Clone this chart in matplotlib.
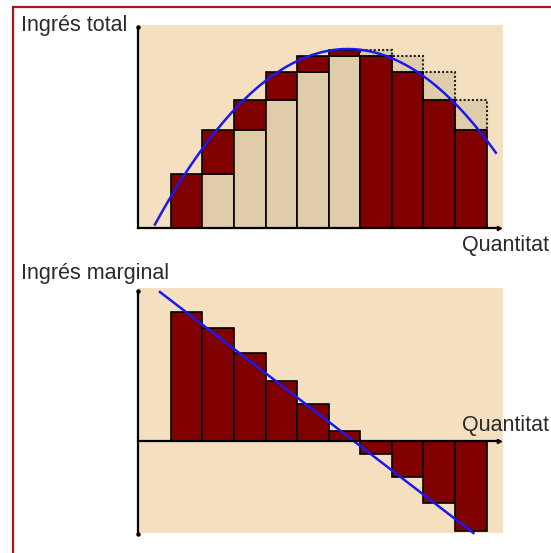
import numpy as np
import matplotlib
matplotlib.use('Agg')
import matplotlib.pyplot as plt
from matplotlib.patches import Rectangle

plt.rcParams['font.family'] = ['Liberation Sans', 'DejaVu Sans']

# quantities (bar centres)
q = [1, 2, 3, 4, 5, 6, 7, 8, 9, 10]
# total revenue at each quantity (TR(0) = 0)
total_rev = [54, 98, 128, 156, 172, 178, 172, 156, 128, 98]
# marginal revenue bars
marg_rev = [129, 113, 88, 60, 37, 10, -13, -36, -62, -90]

# continuous total revenue curve: peak position, half width, peak height
tr_peak_q = 6.1
tr_half_w = 6.16
tr_peak = 179
tr_curve_q = [0.0, 10.79]
# continuous marginal revenue line (end points)
mr_line_q = [0.16, 10.08]
mr_line_v = [149, -92]

tan = '#F4DFBE'
light = '#E0CCA8'
dark = '#800000'
blue = '#1A1AF0'
txt = '#2A2A2A'

W, H = 551, 553
fig = plt.figure(figsize=(W / 100, H / 100), dpi=100)
fig.patch.set_facecolor('white')

# dark red frame, running off the right and bottom edges
fig.patches.append(Rectangle((12.5 / W, -0.1), 1.2, 1 - 6.5 / H + 0.1,
                             transform=fig.transFigure, fill=False,
                             edgecolor='#A01818', linewidth=1.6))

xlim = (-0.535, 11.016)

# ---- top: total revenue ----
ax1 = fig.add_axes([138 / W, 1 - 228 / H, 365 / W, 203 / H])
ax1.set_facecolor(tan)
ax1.set_xlim(*xlim)
ax1.set_ylim(0, 203)

prev = [0] + total_rev[:-1]
for qi, tr, pv in zip(q, total_rev, prev):
    if tr >= pv:
        ax1.bar(qi, pv, width=1, color=light, edgecolor='black', linewidth=1.2)
        ax1.bar(qi, tr - pv, bottom=pv, width=1, color=dark,
                edgecolor='black', linewidth=1.2)
    else:
        # revenue lost: dotted outline of the previous total
        ax1.bar(qi, pv - tr, bottom=tr, width=1, color=light, edgecolor='#222222',
                linewidth=1.5, linestyle=(0, (1, 1)), zorder=1)
        ax1.bar(qi, tr, width=1, color=dark, edgecolor='black', linewidth=1.2,
                zorder=2)

qq = np.linspace(tr_curve_q[0], tr_curve_q[1], 200)
ax1.plot(qq, tr_peak * (1 - ((qq - tr_peak_q) / tr_half_w) ** 2),
         color=blue, linewidth=1.8, clip_on=False, zorder=3)

ax1.plot([xlim[0], xlim[0]], [0, 201], color='black', lw=1.6, clip_on=False)
ax1.plot([xlim[0]], [201], marker='o', ms=2.2, color='black', clip_on=False)
ax1.plot([xlim[0], 10.9], [0, 0], color='black', lw=1.6, clip_on=False, zorder=4)
ax1.plot([10.9], [0], marker='>', ms=3, color='black', clip_on=False)

# ---- bottom: marginal revenue ----
ax2 = fig.add_axes([138 / W, 1 - 533 / H, 365 / W, 245 / H])
ax2.set_facecolor(tan)
ax2.set_xlim(*xlim)
ax2.set_ylim(-92, 153)

ax2.bar(q, marg_rev, width=1, color=dark, edgecolor='black', linewidth=1.2)
ax2.plot(mr_line_q, mr_line_v, color=blue, linewidth=1.8, clip_on=False, zorder=3)

ax2.plot([xlim[0], xlim[0]], [-93, 150], color='black', lw=1.6, clip_on=False)
ax2.plot([xlim[0], xlim[0]], [-93, 150], 'o', ms=2.2, color='black', clip_on=False)
ax2.plot([xlim[0], 10.9], [0, 0], color='black', lw=1.6, clip_on=False, zorder=4)
ax2.plot([10.9], [0], marker='>', ms=3, color='black', clip_on=False)

for ax in (ax1, ax2):
    for s in ax.spines.values():
        s.set_visible(False)
    ax.set_xticks([])
    ax.set_yticks([])

fs = 15.5
fig.text(21 / W, 1 - 31 / H, 'Ingrés total', fontsize=fs, color=txt, va='baseline')
fig.text(462 / W, 1 - 251 / H, 'Quantitat', fontsize=fs, color=txt, va='baseline')
fig.text(21 / W, 1 - 279 / H, 'Ingrés marginal', fontsize=fs, color=txt, va='baseline')
fig.text(462 / W, 1 - 431 / H, 'Quantitat', fontsize=fs, color=txt, va='baseline')

fig.savefig('out.png', dpi=100)
